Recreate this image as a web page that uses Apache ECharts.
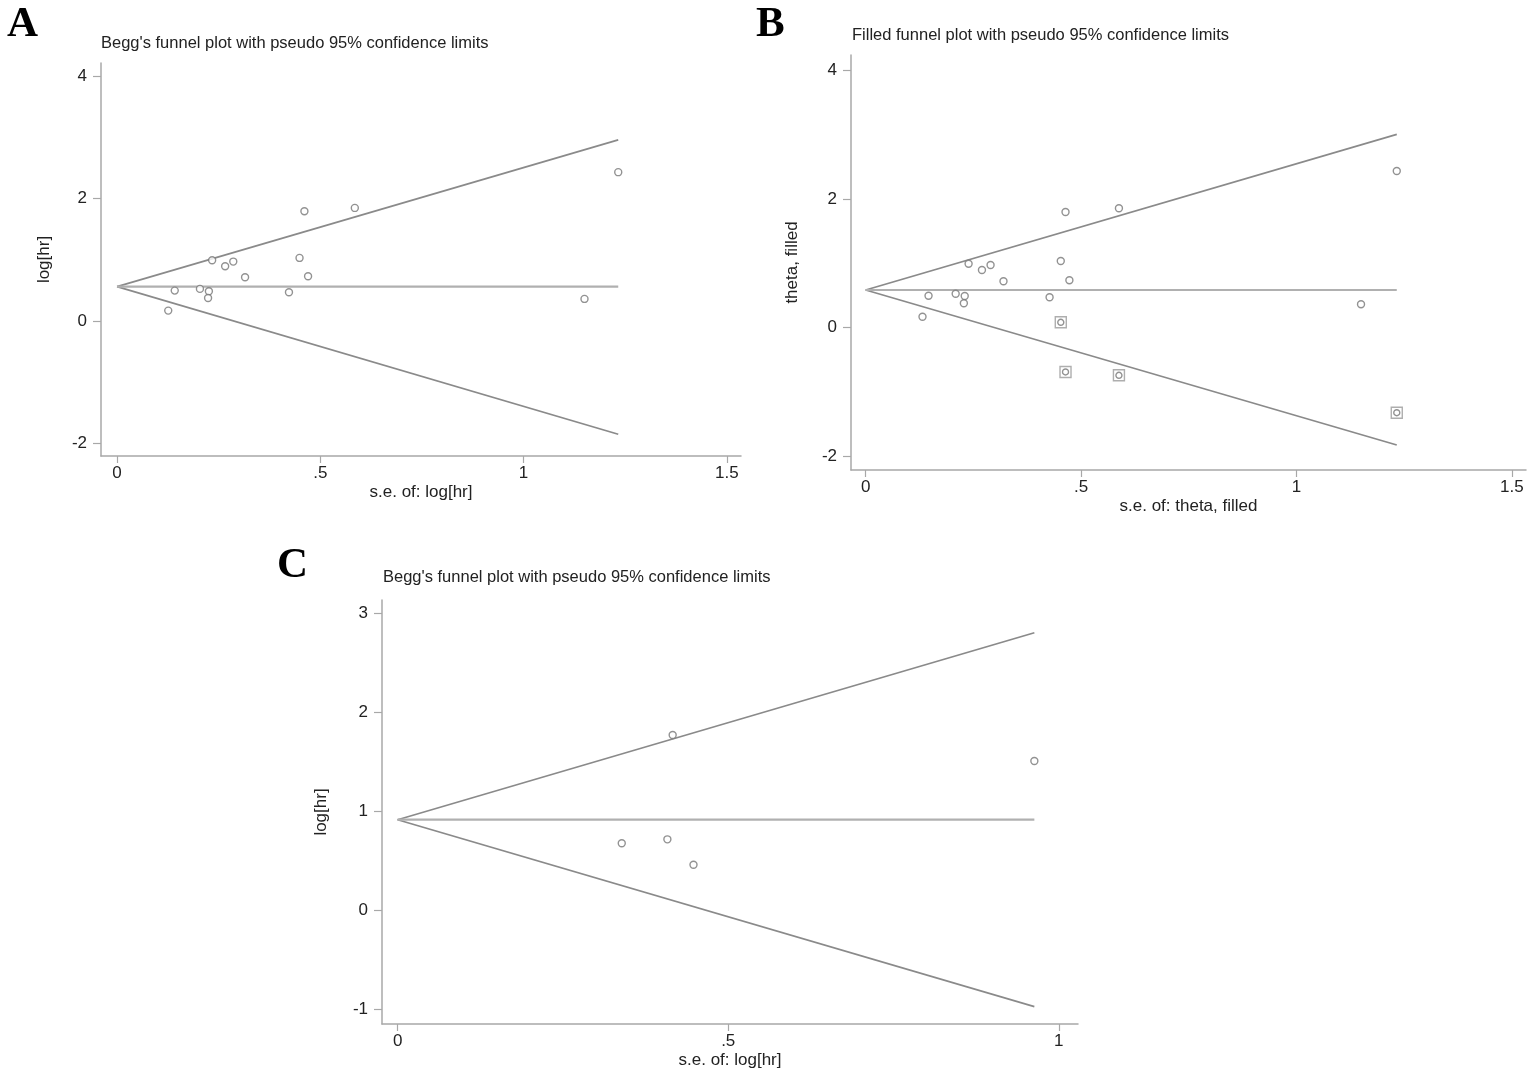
<!DOCTYPE html>
<html>
<head>
<meta charset="utf-8">
<script src="https://cdn.jsdelivr.net/npm/echarts@6/dist/echarts.min.js"></script>
<style>html,body{margin:0;padding:0;background:#fff}#c{width:1535px;height:1078px}</style>
</head>
<body>
<div id="c"></div>
<script>
// ---- Panel A: Begg's funnel plot ----
const aSE    = [0.126,0.142,0.204,0.226,0.224,0.234,0.266,0.286,0.315,0.423,0.449,0.461,0.470,0.585,1.150,1.233];
const aLogHR = [0.169,0.496,0.524,0.486,0.376,0.993,0.895,0.971,0.715,0.470,1.031,1.795,0.732,1.849,0.360,2.434];
const aTheta = 0.561, aSEMax = 1.233, aUpperEnd = 2.962, aLowerEnd = -1.855;

// ---- Panel B: Filled funnel plot ----
const bSE    = [0.132,0.146,0.209,0.230,0.228,0.239,0.270,0.290,0.320,0.427,0.453,0.464,0.473,0.588,1.150,1.233];
const bTheta_ = [0.168,0.495,0.526,0.491,0.377,0.994,0.896,0.974,0.720,0.470,1.036,1.799,0.735,1.857,0.361,2.438];
const bFilledSE    = [0.453,0.464,0.588,1.233];
const bFilledTheta = [0.081,-0.693,-0.745,-1.327];
const bTheta = 0.584, bSEMax = 1.233, bUpperEnd = 3.009, bLowerEnd = -1.830;

// ---- Panel C: Begg's funnel plot ----
const cSE    = [0.416,0.963,0.339,0.408,0.4475];
const cLogHR = [1.774,1.511,0.680,0.720,0.464];
const cTheta = 0.918, cSEMax = 0.963, cUpperEnd = 2.806, cLowerEnd = -0.970;

// ---- tick labels ----
const abXTicks = [0, 0.5, 1, 1.5];
const cXTicks  = [0, 0.5, 1];
const abYTicks = [-2, 0, 2, 4];
const cYTicks  = [-1, 0, 1, 2, 3];
const xTickText = {0:'0', 0.5:'.5', 1:'1', 1.5:'1.5'};

const FONT = 'Liberation Sans, Arial, sans-serif';
const AXC = '#a8a8a8';
const LINEC = '#8a8a8a';
const MIDC = '#b0b0b0';
const MARKC = '#777777';

function xAxisCfg(idx, min, max, ticks, name) {
  return {
    type:'value', gridIndex: idx, min, max, name,
    nameLocation:'middle', nameGap: 28,
    nameTextStyle:{fontFamily:FONT, fontSize:17, color:'#222'},
    axisLine:{show:true, onZero:false, lineStyle:{color:AXC, width:1.5}},
    axisTick:{show:true, length:7, customValues: ticks, lineStyle:{color:AXC, width:1.2}},
    axisLabel:{customValues: ticks, margin:9, fontFamily:FONT, fontSize:17, color:'#222',
      formatter: v => xTickText[v] !== undefined ? xTickText[v] : String(v)},
    splitLine:{show:false}
  };
}
function yAxisCfg(idx, min, max, ticks, name, gap) {
  return {
    type:'value', gridIndex: idx, min, max, name,
    nameLocation:'middle', nameGap: gap,
    nameTextStyle:{fontFamily:FONT, fontSize:17, color:'#222'},
    axisLine:{show:true, onZero:false, lineStyle:{color:AXC, width:1.5}},
    axisTick:{show:true, length:8, customValues: ticks, lineStyle:{color:AXC, width:1.2}},
    axisLabel:{customValues: ticks, margin:14, fontFamily:FONT, fontSize:17, color:'#222',
      formatter: v => String(v)},
    splitLine:{show:false}
  };
}
function funnel(idx, theta, seMax, up, lo) {
  return [
    {type:'line', xAxisIndex:idx, yAxisIndex:idx, data:[[0,theta],[seMax,up]], symbol:'none', silent:true,
      lineStyle:{color:LINEC, width:1.7}, z:2},
    {type:'line', xAxisIndex:idx, yAxisIndex:idx, data:[[0,theta],[seMax,lo]], symbol:'none', silent:true,
      lineStyle:{color:LINEC, width:1.7}, z:2},
    {type:'line', xAxisIndex:idx, yAxisIndex:idx, data:[[0,theta],[seMax,theta]], symbol:'none', silent:true,
      lineStyle:{color:MIDC, width:2.2}, z:2}
  ];
}
function pts(idx, xs, ys, symbol, size, color) {
  return {type:'scatter', xAxisIndex:idx, yAxisIndex:idx, data: xs.map((x,i)=>[x,ys[i]]),
    symbol, symbolSize:size, itemStyle:{color:'#fff', borderColor:color, borderWidth:1.4}, z:3};
}

const letterStyle = {fontFamily:'Liberation Serif, serif', fontWeight:'bold', fontSize:43, color:'#000'};
const titleStyle = {fontFamily:FONT, fontWeight:'normal', fontSize:16.5, color:'#222'};

const chart = echarts.init(document.getElementById('c'), null, {renderer:'canvas'});
chart.setOption({
  backgroundColor:'#fff',
  animation:false,
  title:[
    {text:'A', left:7, top:3, padding:0, textStyle:letterStyle},
    {text:'B', left:756, top:3, padding:0, textStyle:letterStyle},
    {text:'C', left:277, top:544, padding:0, textStyle:letterStyle},
    {text:"Begg's funnel plot with pseudo 95% confidence limits", left:101, top:35, padding:0, textStyle:titleStyle},
    {text:"Filled funnel plot with pseudo 95% confidence limits", left:852, top:27, padding:0, textStyle:titleStyle},
    {text:"Begg's funnel plot with pseudo 95% confidence limits", left:383, top:569, padding:0, textStyle:titleStyle}
  ],
  grid:[
    {left:101, top:63, width:640, height:393},
    {left:851, top:55, width:675, height:415},
    {left:382, top:600, width:696, height:424}
  ],
  xAxis:[
    xAxisCfg(0, -0.0394, 1.535, abXTicks, 's.e. of: log[hr]'),
    xAxisCfg(1, -0.034, 1.533, abXTicks, 's.e. of: theta, filled'),
    xAxisCfg(2, -0.0236, 1.029, cXTicks, 's.e. of: log[hr]')
  ],
  yAxis:[
    yAxisCfg(0, -2.21, 4.22, abYTicks, 'log[hr]', 48),
    yAxisCfg(1, -2.22, 4.245, abYTicks, 'theta, filled', 50),
    yAxisCfg(2, -1.145, 3.137, cYTicks, 'log[hr]', 52)
  ],
  series:[
    ...funnel(0, aTheta, aSEMax, aUpperEnd, aLowerEnd),
    pts(0, aSE, aLogHR, 'circle', 7, MARKC),
    ...funnel(1, bTheta, bSEMax, bUpperEnd, bLowerEnd),
    pts(1, bSE, bTheta_, 'circle', 7, MARKC),
    pts(1, bFilledSE, bFilledTheta, 'rect', 11, '#9a9a9a'),
    pts(1, bFilledSE, bFilledTheta, 'circle', 6, MARKC),
    ...funnel(2, cTheta, cSEMax, cUpperEnd, cLowerEnd),
    pts(2, cSE, cLogHR, 'circle', 7, MARKC)
  ]
});
</script>
</body>
</html>
